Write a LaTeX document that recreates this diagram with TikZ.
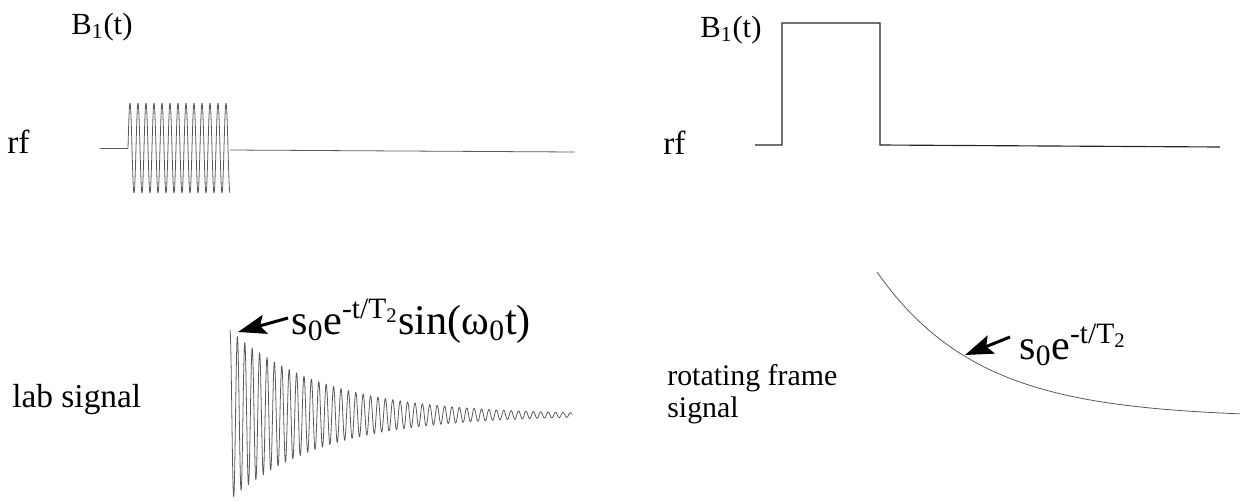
\documentclass[tikz,border=0pt]{standalone}
\usepackage{fontspec}
\setmainfont{Liberation Serif}
\usetikzlibrary{arrows.meta}
\begin{document}
\begin{tikzpicture}[x={(0.02cm,0)}, y={(0,-0.02cm)},
  lbl/.style={inner sep=0, anchor=base west, font=\fontsize{19}{18.2}\selectfont},
  eqn/.style={inner sep=0, anchor=base west, font=\fontsize{24}{28}\selectfont},
  wave/.style={line width=0.45pt, black!65, line join=round},
  trace/.style={line width=0.65pt, black!85},
  pointer/.style={line width=1.7pt, -{Stealth[length=16pt,width=11pt,inset=3pt]}}]
\useasboundingbox (0,0) rectangle (1248,501);

% ---------- left panel ----------
\node[lbl, font=\fontsize{17.5}{18}\selectfont] (B1L) at (71,34) {B\textsubscript{1}(t)};
\node[lbl] (rfL) at (7,153) {rf};
\node[lbl] (labL) at (12,407) {lab signal};

\coordinate (rfLa) at (100,148);
\coordinate (rfLb) at (128,148);
\coordinate (rfLc) at (230,150);
\coordinate (rfLd) at (575,152);
\draw[wave] (rfLa) -- (rfLb);
\draw[wave] plot[domain=128:230, samples=320] (\x, {148 - 45*sin(45*(\x-128))});
\draw[wave] (rfLc) -- (rfLd);

\draw[wave] plot[domain=230:572, samples=1100]
  (\x, {415 - 85*exp(-(\x-230)/95)*cos(360*mod(\x-230,7.4)/7.4)});

\node[eqn] (eqL) at (291,334) {s\textsubscript{0}e\textsuperscript{-t/T\textsubscript{2}}sin(ω\textsubscript{0}t)};
\coordinate (tailL) at (288,318);
\coordinate (tipL) at (238,332);
\draw[pointer] (tailL) -- (tipL);

% ---------- right panel ----------
\node[lbl, font=\fontsize{17.5}{18}\selectfont] (B1R) at (700,37) {B\textsubscript{1}(t)};
\node[lbl] (rfR) at (663,154) {rf};
\node[lbl, align=left, font=\fontsize{17}{18.2}\selectfont] (rotR) at (667,417) {rotating frame\\signal};

\coordinate (p0) at (755,145);
\coordinate (p1) at (782,145);
\coordinate (p2) at (782,23);
\coordinate (p3) at (880,23);
\coordinate (p4) at (880,145);
\coordinate (p5) at (1220,147);
\draw[trace] (p0) -- (p1) -- (p2) -- (p3) -- (p4) -- (p5);

\draw[wave] plot[domain=877:1240, samples=200] (\x, {418 - 146*exp(-(\x-877)/102)});

\node[eqn] (eqR) at (1019,359) {s\textsubscript{0}e\textsuperscript{-t/T\textsubscript{2}}};
\coordinate (tailR) at (1010,337);
\coordinate (tipR) at (965,355);
\draw[pointer] (tailR) -- (tipR);
\end{tikzpicture}
\end{document}
